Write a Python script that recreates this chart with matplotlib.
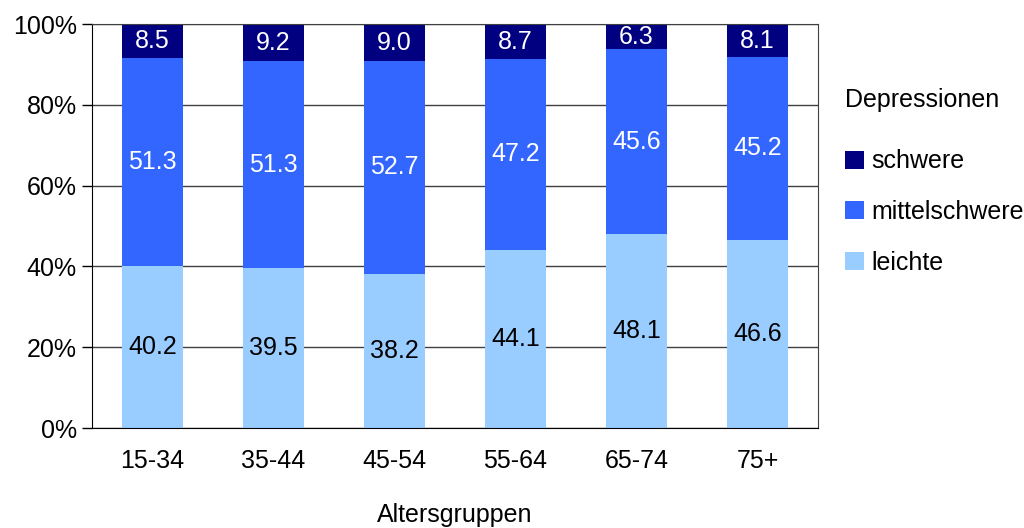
import matplotlib.pyplot as plt
import numpy as np

plt.rcParams['font.family'] = ['Liberation Sans', 'DejaVu Sans']

# Altersgruppen und Anteile je Schweregrad (in %)
gruppen = ["15-34", "35-44", "45-54", "55-64", "65-74", "75+"]
leichte = [40.2, 39.5, 38.2, 44.1, 48.1, 46.6]
mittelschwere = [51.3, 51.3, 52.7, 47.2, 45.6, 45.2]
schwere = [8.5, 9.2, 9.0, 8.7, 6.3, 8.1]

farben = {"leichte": "#99CCFF", "mittelschwere": "#3366FF", "schwere": "#000080"}
textfarben = {"leichte": "black", "mittelschwere": "white", "schwere": "white"}
fs = 18

fig = plt.figure(figsize=(10.24, 5.28), dpi=100)
ax = fig.add_axes([92 / 1024, 1 - 428 / 528, 726 / 1024, 404 / 528])

x = np.arange(len(gruppen))
unten = np.zeros(len(gruppen))
balken = {}
for name, werte in [("leichte", leichte), ("mittelschwere", mittelschwere), ("schwere", schwere)]:
    werte = np.array(werte)
    balken[name] = ax.bar(x, werte, 0.5, bottom=unten, color=farben[name], label=name, zorder=2)
    for xi, b, w in zip(x, unten, werte):
        ax.text(xi, b + w / 2, f"{w:.1f}", ha="center", va="center",
                fontsize=fs, color=textfarben[name], zorder=3)
    unten += werte

ax.set_xlim(-0.5, len(gruppen) - 0.5)
ax.set_ylim(0, 100)
ax.set_yticks(range(0, 101, 20))
ax.set_yticklabels([f"{v}%" for v in range(0, 101, 20)], fontsize=fs)
ax.set_xticks(x)
ax.set_xticklabels(gruppen, fontsize=fs)
ax.tick_params(axis="x", length=0, pad=15)
ax.tick_params(axis="y", length=7, width=1, pad=4, color="black")
ax.yaxis.grid(True, color="#404040", linewidth=1, zorder=0)
for s in ["top", "right"]:
    ax.spines[s].set_color("#404040")
ax.spines["left"].set_color("black")
ax.spines["bottom"].set_color("black")
ax.set_xlabel("Altersgruppen", fontsize=fs, labelpad=22)

leg = fig.legend([balken["schwere"], balken["mittelschwere"], balken["leichte"]],
                 ["schwere", "mittelschwere", "leichte"],
                 title="Depressionen", loc="upper left",
                 bbox_to_anchor=(845 / 1024, 1 - 88 / 528),
                 frameon=False, fontsize=fs, title_fontsize=fs,
                 handlelength=0.75, handleheight=0.75, handletextpad=0.3,
                 labelspacing=1.06, borderaxespad=0, borderpad=0)
leg._legend_box.align = "left"
leg._legend_box.sep = 27

fig.savefig("out.png", dpi=100)
